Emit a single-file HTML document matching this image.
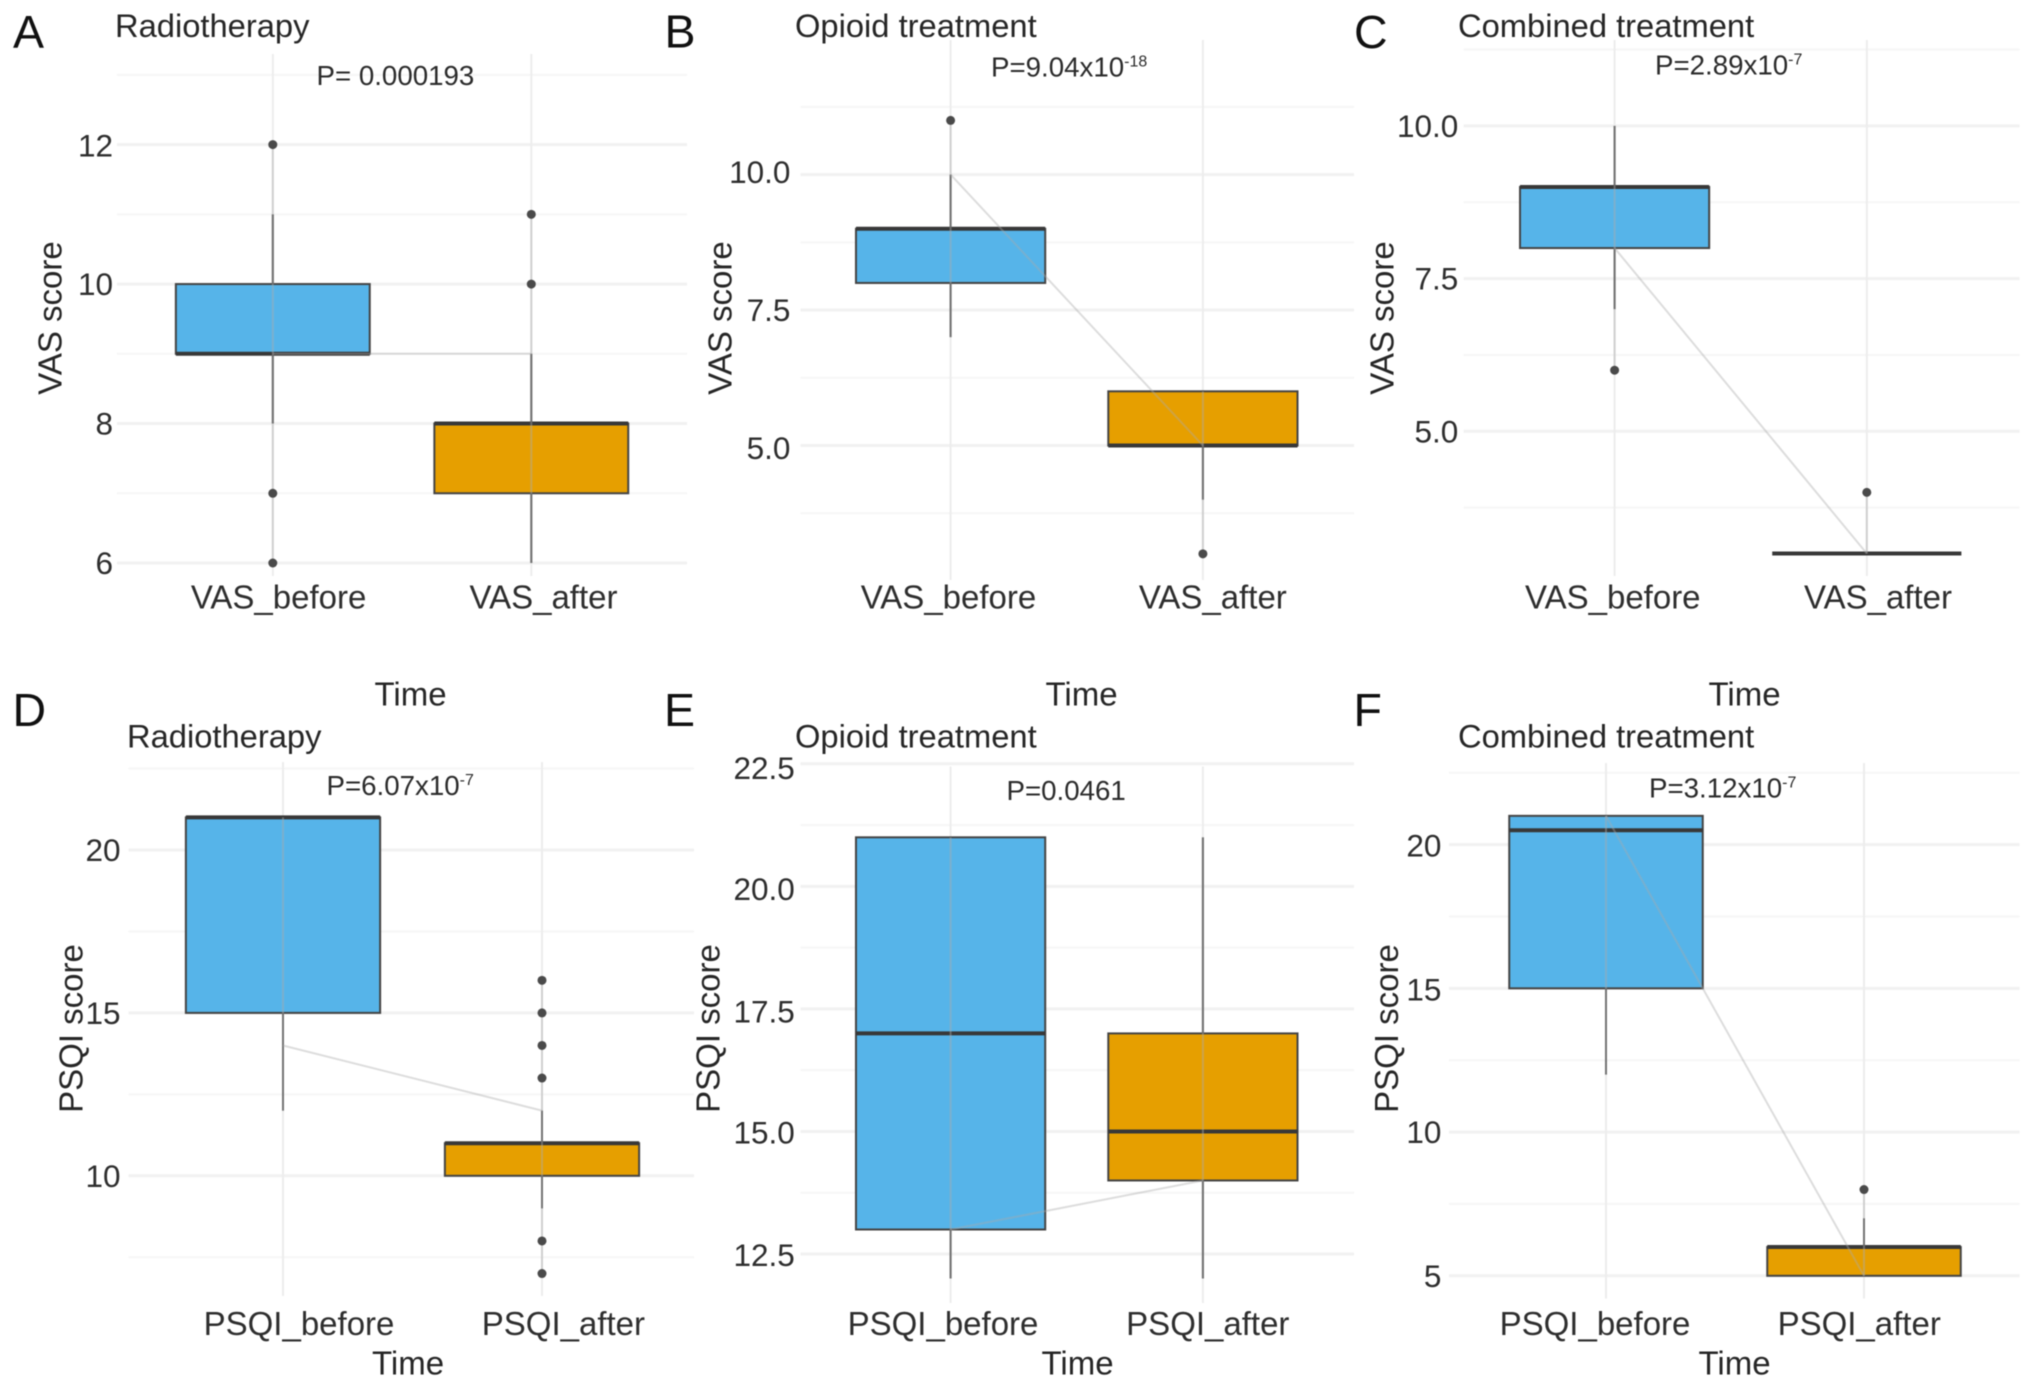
<!DOCTYPE html>
<html lang="en">
<head>
<meta charset="utf-8">
<title>VAS and PSQI scores before and after treatment</title>
<style>
  html, body { margin: 0; padding: 0; background: #ffffff; }
  #figure { display: block; width: 2032px; height: 1387px; filter: blur(0.6px); }
  text { font-family: "Liberation Sans", sans-serif; fill: #2b2b2b; }
  .letter { font-size: 46.5px; fill: #111111; }
  .title { font-size: 32.7px; fill: #262626; }
  .axis-title { font-size: 33px; fill: #262626; }
  .pval { font-size: 27.7px; fill: #2b2b2b; }
  .sup { font-size: 16px; }
  .tick { font-size: 31.5px; fill: #2e2e2e; }
  .cat { font-size: 33px; fill: #2e2e2e; }
</style>
</head>
<body>
<svg id="figure" xmlns="http://www.w3.org/2000/svg" width="2032" height="1387" viewBox="0 0 2032 1387">
  <rect x="0" y="0" width="2032" height="1387" fill="#ffffff"></rect>

  <g id="panel-a">
    <g id="marks-a"></g>
    <text class="letter" x="13" y="48">A</text>
    <text class="title" x="115" y="37">Radiotherapy</text>
    <text class="pval" x="316.5" y="85">P= 0.000193</text>
    <text class="axis-title" transform="translate(61.5 318) rotate(-90)" text-anchor="middle">VAS score</text>
    <text class="axis-title" x="410.5" y="705.5" text-anchor="middle">Time</text>
  </g>

  <g id="panel-b">
    <g id="marks-b"></g>
    <text class="letter" x="664.5" y="47.5">B</text>
    <text class="title" x="795" y="37">Opioid treatment</text>
    <text class="pval" x="991" y="76.5">P=9.04x10<tspan class="sup" dy="-10">-18</tspan></text>
    <text class="axis-title" transform="translate(731.5 318) rotate(-90)" text-anchor="middle">VAS score</text>
    <text class="axis-title" x="1081.5" y="705.5" text-anchor="middle">Time</text>
  </g>

  <g id="panel-c">
    <g id="marks-c"></g>
    <text class="letter" x="1354" y="48">C</text>
    <text class="title" x="1458" y="37">Combined treatment</text>
    <text class="pval" x="1655" y="74.5">P=2.89x10<tspan class="sup" dy="-10">-7</tspan></text>
    <text class="axis-title" transform="translate(1393.5 318) rotate(-90)" text-anchor="middle">VAS score</text>
    <text class="axis-title" x="1744.5" y="705.5" text-anchor="middle">Time</text>
  </g>

  <g id="panel-d">
    <g id="marks-d"></g>
    <text class="letter" x="12.5" y="726">D</text>
    <text class="title" x="127" y="747.5">Radiotherapy</text>
    <text class="pval" x="326.5" y="795">P=6.07x10<tspan class="sup" dy="-10">-7</tspan></text>
    <text class="axis-title" transform="translate(82.5 1028.5) rotate(-90)" text-anchor="middle">PSQI score</text>
    <text class="axis-title" x="408" y="1374.5" text-anchor="middle">Time</text>
  </g>

  <g id="panel-e">
    <g id="marks-e"></g>
    <text class="letter" x="664" y="726">E</text>
    <text class="title" x="795" y="747.5">Opioid treatment</text>
    <text class="pval" x="1006.5" y="800">P=0.0461</text>
    <text class="axis-title" transform="translate(719.5 1028.5) rotate(-90)" text-anchor="middle">PSQI score</text>
    <text class="axis-title" x="1077.5" y="1374.5" text-anchor="middle">Time</text>
  </g>

  <g id="panel-f">
    <g id="marks-f"></g>
    <text class="letter" x="1353.5" y="726">F</text>
    <text class="title" x="1458" y="747.5">Combined treatment</text>
    <text class="pval" x="1649" y="797.5">P=3.12x10<tspan class="sup" dy="-10">-7</tspan></text>
    <text class="axis-title" transform="translate(1398 1028.5) rotate(-90)" text-anchor="middle">PSQI score</text>
    <text class="axis-title" x="1734.5" y="1374.5" text-anchor="middle">Time</text>
  </g>
</svg>

<script>
// Categories
const vasCategories = ['VAS_before', 'VAS_after'];
const psqiCategories = ['PSQI_before', 'PSQI_after'];

// Panel A: box = [q1, median, q3], whisker = [low, high]
const aYTickLabels = ['6', '8', '10', '12'];
const aYMinor = [7, 9, 11, 13];
const aBeforeBox = [9, 9, 10];
const aBeforeWhisker = [8, 11];
const aBeforeOutliers = [12, 7, 6];
const aAfterBox = [7, 8, 8];
const aAfterWhisker = [6, 9];
const aAfterOutliers = [11, 10];
const aConnector = [9, 9];

// Panel B
const bYTickLabels = ['5.0', '7.5', '10.0'];
const bYMinor = [3.75, 6.25, 8.75, 11.25];
const bBeforeBox = [8, 9, 9];
const bBeforeWhisker = [7, 10];
const bBeforeOutliers = [11];
const bAfterBox = [5, 5, 6];
const bAfterWhisker = [4, 6];
const bAfterOutliers = [3];
const bConnector = [10, 5];

// Panel C
const cYTickLabels = ['5.0', '7.5', '10.0'];
const cYMinor = [3.75, 6.25, 8.75, 11.25];
const cBeforeBox = [8, 9, 9];
const cBeforeWhisker = [7, 10];
const cBeforeOutliers = [6];
const cAfterBox = [3, 3, 3];
const cAfterWhisker = [3, 3];
const cAfterOutliers = [4];
const cConnector = [8, 3];

// Panel D
const dYTickLabels = ['10', '15', '20'];
const dYMinor = [7.5, 12.5, 17.5, 22.5];
const dBeforeBox = [15, 21, 21];
const dBeforeWhisker = [12, 21];
const dBeforeOutliers = [];
const dAfterBox = [10, 11, 11];
const dAfterWhisker = [9, 12];
const dAfterOutliers = [16, 15, 14, 13, 8, 7];
const dConnector = [14, 12];

// Panel E
const eYTickLabels = ['12.5', '15.0', '17.5', '20.0', '22.5'];
const eYMinor = [13.75, 16.25, 18.75, 21.25];
const eBeforeBox = [13, 17, 21];
const eBeforeWhisker = [12, 21];
const eBeforeOutliers = [];
const eAfterBox = [14, 15, 17];
const eAfterWhisker = [12, 21];
const eAfterOutliers = [];
const eConnector = [13, 14];

// Panel F
const fYTickLabels = ['5', '10', '15', '20'];
const fYMinor = [7.5, 12.5, 17.5, 22.5];
const fBeforeBox = [15, 20.5, 21];
const fBeforeWhisker = [12, 21];
const fBeforeOutliers = [];
const fAfterBox = [5, 6, 6];
const fAfterWhisker = [5, 7];
const fAfterOutliers = [8];
const fConnector = [21, 5];

var SVG_NS = 'http://www.w3.org/2000/svg';

function make(tag, parent, attrs) {
  var el = document.createElementNS(SVG_NS, tag);
  Object.keys(attrs).forEach(function (k) { el.setAttribute(k, attrs[k]); });
  parent.appendChild(el);
  return el;
}

function linear(d0, d1, r0, r1) {
  return function (v) { return r0 + (v - d0) * (r1 - r0) / (d1 - d0); };
}

function drawPanel(p) {
  var g = document.getElementById(p.target);
  var y = linear(p.yDomain[0], p.yDomain[1], p.yRange[0], p.yRange[1]);
  var x = linear(0, 1, p.xRange[0], p.xRange[1]);
  var halfBox = 0.375 * (p.xRange[1] - p.xRange[0]);

  p.minor.forEach(function (v) {
    var line = make('line', g, { x1: p.left, x2: p.right, y1: y(v), y2: y(v), stroke: '#f6f6f6', 'stroke-width': 2 });
    
    
  });

  p.ticks.forEach(function (label, k) {
    var v = parseFloat(label);
    var line = make('line', g, { x1: p.left, x2: p.right, y1: y(v), y2: y(v), stroke: '#f1f1f1', 'stroke-width': 3 });
    
    
    var text = make('text', g, { x: p.tickRight, y: y(v) + 11 + (p.tickNudge[k] || 0), 'text-anchor': 'end', 'class': 'tick' });
    text.textContent = label;
    
    
  });

  p.groups.forEach(function (s, i) {
    var cx = x(i);
    var grid = make('line', g, { x1: cx, x2: cx, y1: p.top, y2: p.bottom, stroke: '#ededed', 'stroke-width': 2 });
    
    

    var catLabel = make('text', g, { x: p.catX[i], y: p.catY, 'text-anchor': 'middle', 'class': 'cat' });
    catLabel.textContent = p.categories[i];
    
    

    var lowWhisker = make('line', g, { x1: cx, x2: cx, y1: y(s.whisker[0]), y2: y(s.box[0]), stroke: '#444444', 'stroke-width': 2 });
    
    

    var highWhisker = make('line', g, { x1: cx, x2: cx, y1: y(s.box[2]), y2: y(s.whisker[1]), stroke: '#444444', 'stroke-width': 2 });
    
    

    var box = make('rect', g, {
      x: cx - halfBox, width: 2 * halfBox,
      y: y(s.box[2]), height: y(s.box[0]) - y(s.box[2]),
      fill: p.colors[i], stroke: '#444444', 'stroke-width': 2
    });
    
    

    var median = make('line', g, { x1: cx - halfBox, x2: cx + halfBox, y1: y(s.box[1]), y2: y(s.box[1]), stroke: '#383838', 'stroke-width': 4 });
    
    
  });

  // Paired-data line: spans each group's value range, then joins the two groups
  p.groups.forEach(function (s, i) {
    var all = s.box.concat(s.whisker, s.outliers);
    var range = make('line', g, {
      x1: x(i), x2: x(i),
      y1: y(Math.min.apply(null, all)), y2: y(Math.max.apply(null, all)),
      stroke: '#aaaaaa', 'stroke-opacity': 0.45, 'stroke-width': 2
    });
    
    
  });

  var link = make('line', g, {
    x1: x(0), x2: x(1), y1: y(p.connector[0]), y2: y(p.connector[1]),
    stroke: '#aaaaaa', 'stroke-opacity': 0.4, 'stroke-width': 2
  });
  
  

  p.groups.forEach(function (s, i) {
    s.outliers.forEach(function (v) {
      var dot = make('circle', g, { cx: x(i), cy: y(v), r: 4.5, fill: '#4a4a4a' });
      
      
    });
  });
}

var boxColors = ['#56B4E9', '#E69F00'];

drawPanel({
  target: 'marks-a', categories: vasCategories, ticks: aYTickLabels, minor: aYMinor, connector: aConnector, colors: boxColors,
  groups: [
    { box: aBeforeBox, whisker: aBeforeWhisker, outliers: aBeforeOutliers },
    { box: aAfterBox, whisker: aAfterWhisker, outliers: aAfterOutliers }
  ],
  yDomain: [6, 12], yRange: [563, 144.6], xRange: [272.8, 531.3], tickNudge: [0, 0, 0, 1],
  left: 117, right: 687, top: 54, bottom: 576, tickRight: 113, catX: [278.6, 543.5], catY: 608.5
});

drawPanel({
  target: 'marks-b', categories: vasCategories, ticks: bYTickLabels, minor: bYMinor, connector: bConnector, colors: boxColors,
  groups: [
    { box: bBeforeBox, whisker: bBeforeWhisker, outliers: bBeforeOutliers },
    { box: bAfterBox, whisker: bAfterWhisker, outliers: bAfterOutliers }
  ],
  yDomain: [5, 10], yRange: [445.5, 174.6], xRange: [950.6, 1202.9], tickNudge: [2.6, 0, -2.6],
  left: 800.6, right: 1354, top: 40, bottom: 580, tickRight: 790.4, catX: [948.5, 1212.8], catY: 608.5
});

drawPanel({
  target: 'marks-c', categories: vasCategories, ticks: cYTickLabels, minor: cYMinor, connector: cConnector, colors: boxColors,
  groups: [
    { box: cBeforeBox, whisker: cBeforeWhisker, outliers: cBeforeOutliers },
    { box: cAfterBox, whisker: cAfterWhisker, outliers: cAfterOutliers }
  ],
  yDomain: [5, 10], yRange: [431.3, 125.9], xRange: [1614.6, 1866.8], tickNudge: [0, 0, 0],
  left: 1463.7, right: 2019.5, top: 40, bottom: 576, tickRight: 1458.3, catX: [1612.8, 1878], catY: 608.5
});

drawPanel({
  target: 'marks-d', categories: psqiCategories, ticks: dYTickLabels, minor: dYMinor, connector: dConnector, colors: boxColors,
  groups: [
    { box: dBeforeBox, whisker: dBeforeWhisker, outliers: dBeforeOutliers },
    { box: dAfterBox, whisker: dAfterWhisker, outliers: dAfterOutliers }
  ],
  yDomain: [10, 20], yRange: [1175.8, 850], xRange: [283, 542], tickNudge: [0, 0, 0],
  left: 128.6, right: 694, top: 762, bottom: 1296, tickRight: 120.5, catX: [299, 563.4], catY: 1335
});

drawPanel({
  target: 'marks-e', categories: psqiCategories, ticks: eYTickLabels, minor: eYMinor, connector: eConnector, colors: boxColors,
  groups: [
    { box: eBeforeBox, whisker: eBeforeWhisker, outliers: eBeforeOutliers },
    { box: eAfterBox, whisker: eAfterWhisker, outliers: eAfterOutliers }
  ],
  yDomain: [12.5, 22.5], yRange: [1254, 763.8], xRange: [950.6, 1202.9], tickNudge: [1, 1, 2.6, 2.6, 4],
  left: 800.6, right: 1354, top: 766.5, bottom: 1303, tickRight: 794.8, catX: [943, 1207.8], catY: 1335
});

drawPanel({
  target: 'marks-f', categories: psqiCategories, ticks: fYTickLabels, minor: fYMinor, connector: fConnector, colors: boxColors,
  groups: [
    { box: fBeforeBox, whisker: fBeforeWhisker, outliers: fBeforeOutliers },
    { box: fAfterBox, whisker: fAfterWhisker, outliers: fAfterOutliers }
  ],
  yDomain: [5, 20], yRange: [1275.8, 844.6], xRange: [1606, 1864], tickNudge: [0, 0, 1, 1],
  left: 1449, right: 2019.5, top: 763, bottom: 1298.6, tickRight: 1441.4, catX: [1595, 1859.2], catY: 1335
});
</script>
</body>
</html>
